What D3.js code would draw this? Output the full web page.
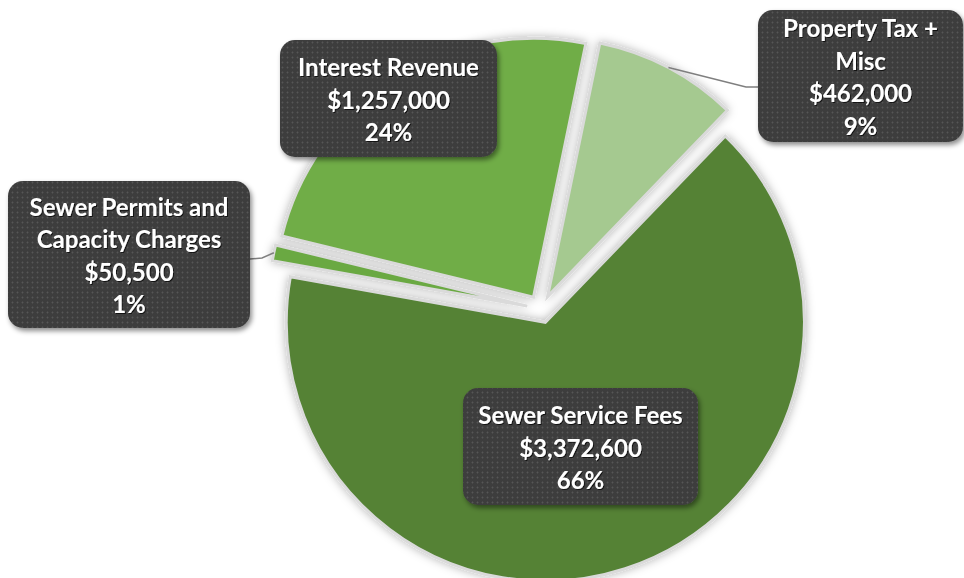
<!DOCTYPE html>
<html>
<head>
<meta charset="utf-8">
<script src="https://cdn.jsdelivr.net/npm/d3@7"></script>
<style>
body { margin: 0; background: #fff; }
</style>
</head>
<body>
<div class="chart"></div>
<script>
var width = 964, height = 578;

// data
var categories = ["Sewer Service Fees", "Sewer Permits and Capacity Charges", "Interest Revenue", "Property Tax + Misc"];
var amounts = [3372600, 50500, 1257000, 462000];
var nameLines = [["Sewer Service Fees"], ["Sewer Permits and", "Capacity Charges"], ["Interest Revenue"], ["Property Tax +", "Misc"]];
var colors = ["#548235", "#6aa943", "#70ad47", "#a5c990"];

// label boxes (layout)
var boxes = [
	{x: 463, y: 388, w: 235, h: 117, leader: null},
	{x: 8, y: 181, w: 242, h: 147, leader: [[262, 258], [250, 259]]},
	{x: 280, y: 40, w: 217, h: 117, leader: null},
	{x: 758, y: 10, w: 205, h: 132, leader: [[746, 87], [758, 87]]}
];

var cx = 541, cy = 309, radius = 259, explode = 14;
var start = 44 * Math.PI / 180;

var svg = d3.select('.chart')
	.append('svg')
	.attr('width', width)
	.attr('height', height);

var defs = svg.append('defs');

var glow = defs.append('filter').attr('id', 'glow')
	.attr('x', '-20%').attr('y', '-20%').attr('width', '140%').attr('height', '140%');
glow.append('feDropShadow')
	.attr('dx', 0).attr('dy', 0).attr('stdDeviation', 5)
	.attr('flood-color', '#000').attr('flood-opacity', 0.3);

var boxShadow = defs.append('filter').attr('id', 'boxshadow')
	.attr('x', '-10%').attr('y', '-10%').attr('width', '125%').attr('height', '130%');
boxShadow.append('feDropShadow')
	.attr('dx', 2).attr('dy', 3).attr('stdDeviation', 2.5)
	.attr('flood-color', '#000').attr('flood-opacity', 0.45);

var txtShadow = defs.append('filter').attr('id', 'txtshadow');
txtShadow.append('feDropShadow')
	.attr('dx', 1).attr('dy', 1).attr('stdDeviation', 0.7)
	.attr('flood-color', '#000').attr('flood-opacity', 0.7);

var dots = defs.append('pattern').attr('id', 'dots')
	.attr('patternUnits', 'userSpaceOnUse')
	.attr('width', 5).attr('height', 5);
dots.append('rect').attr('width', 5).attr('height', 5).attr('fill', '#3c3c3c');
dots.append('circle').attr('cx', 2.5).attr('cy', 2.5).attr('r', 1).attr('fill', '#575757');

var pie = d3.pie().sort(null).startAngle(start).endAngle(start + 2 * Math.PI);
var arc = d3.arc().innerRadius(0).outerRadius(radius);
var arcs = pie(amounts);
var total = d3.sum(amounts);
var fmtMoney = d3.format('$,');
var fmtPct = d3.format('.0%');

function offset(d, r) {
	var m = (d.startAngle + d.endAngle) / 2;
	return [cx + explode * Math.sin(m) + r * Math.sin(m), cy - explode * Math.cos(m) - r * Math.cos(m)];
}

svg.append('g')
	.attr('class', 'slices')
	.attr('filter', 'url(#glow)')
	.selectAll('.slice')
	.data(arcs)
	.enter().append('path')
	.attr('class', 'slice')
	.attr('transform', function(d) { var p = offset(d, 0); return 'translate(' + p[0] + ',' + p[1] + ')'; })
	.attr('d', arc)
	.attr('fill', function(d, i) { return colors[i]; })
	.attr('stroke', '#dadada')
	.attr('stroke-width', 3);

// leader lines
svg.append('g')
	.selectAll('.leader')
	.data(arcs.filter(function(d, i) { return boxes[i].leader; }))
	.enter().append('polyline')
	.attr('class', 'leader')
	.attr('points', function(d) {
		var pts = [offset(d, radius)].concat(boxes[d.index].leader);
		return pts.map(function(p) { return p.join(','); }).join(' ');
	})
	.attr('fill', 'none')
	.attr('stroke', '#7f7f7f')
	.attr('stroke-width', 1.5);

var labels = svg.append('g')
	.attr('class', 'labels')
	.selectAll('.label')
	.data(arcs)
	.enter().append('g')
	.attr('class', 'label');

labels.append('rect')
	.attr('x', function(d) { return boxes[d.index].x; })
	.attr('y', function(d) { return boxes[d.index].y; })
	.attr('width', function(d) { return boxes[d.index].w; })
	.attr('height', function(d) { return boxes[d.index].h; })
	.attr('rx', 15)
	.attr('fill', 'url(#dots)')
	.attr('filter', 'url(#boxshadow)');

var lineH = 32.5;
labels.each(function(d) {
	var b = boxes[d.index];
	var lines = nameLines[d.index].concat([fmtMoney(d.value), fmtPct(d.value / total)]);
	var top = b.y + b.h / 2 - (lines.length - 1) * lineH / 2 + 1.5;
	d3.select(this).append('g')
		.attr('filter', 'url(#txtshadow)')
		.selectAll('text')
		.data(lines)
		.enter().append('text')
		.attr('x', b.x + b.w / 2)
		.attr('y', function(t, j) { return top + j * lineH + 8.5; })
		.attr('text-anchor', 'middle')
		.attr('fill', '#fff')
		.style('font-family', 'Lato, "Open Sans", sans-serif')
		.style('font-weight', 700)
		.style('font-size', '24px')
		.text(function(t) { return t; });
});
</script>
</body>
</html>
